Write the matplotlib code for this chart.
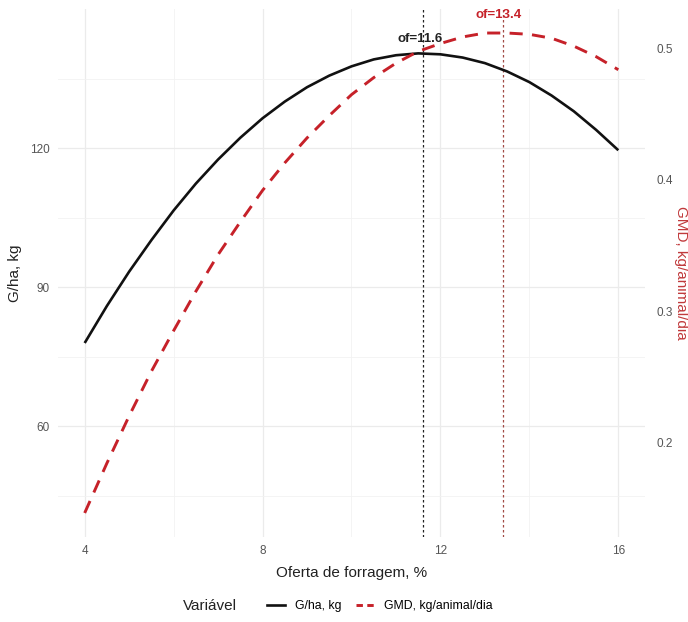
import matplotlib.pyplot as plt
from matplotlib.lines import Line2D

plt.rcParams['font.family'] = ['Liberation Sans', 'DejaVu Sans']

# oferta de forragem (%)
oferta = [4.0, 4.5, 5.0, 5.5, 6.0, 6.5, 7.0, 7.5, 8.0, 8.5, 9.0, 9.5, 10.0,
          10.5, 11.0, 11.5, 12.0, 12.5, 13.0, 13.5, 14.0, 14.5, 15.0, 15.5, 16.0]
# ganho por hectare, kg
gha = [78.0, 86.0, 93.4, 100.2, 106.6, 112.4, 117.6, 122.3, 126.5, 130.1, 133.2,
       135.7, 137.7, 139.2, 140.1, 140.5, 140.3, 139.6, 138.4, 136.6, 134.3,
       131.4, 128.0, 124.0, 119.6]
# ganho medio diario, kg/animal/dia
gmd = [0.146, 0.184, 0.220, 0.254, 0.285, 0.315, 0.343, 0.368, 0.392, 0.413,
       0.432, 0.449, 0.465, 0.478, 0.489, 0.498, 0.504, 0.509, 0.512, 0.512,
       0.511, 0.508, 0.502, 0.494, 0.484]

of_gha = 11.6
of_gmd = 13.4
escala = 283.0  # fator do eixo secundario

x_ticks = [4, 8, 12, 16]
x_minor = [6, 10, 14]
y_ticks = [60, 90, 120]
y_minor = [45, 75, 105, 135]
y2_ticks = [0.2, 0.3, 0.4, 0.5]

preto = '#111111'
vermelho = '#C62129'
cinza = '#555555'

fig = plt.figure(figsize=(6.88, 6.22), dpi=100)
ax = fig.add_axes([0.0843, 0.1367, 0.8532, 0.8488])

gmd_esc = [v * escala for v in gmd]
lo = min(min(gha), min(gmd_esc))
hi = max(max(gha), max(gmd_esc))
pad = (hi - lo) * 0.05
ax.set_ylim(lo - pad, hi + pad)
ax.set_xlim(3.4, 16.6)

for v in x_ticks:
    ax.axvline(v, color='#EBEBEB', lw=0.9, zorder=0)
for v in x_minor:
    ax.axvline(v, color='#F2F2F2', lw=0.6, zorder=0)
for v in y_ticks:
    ax.axhline(v, color='#EBEBEB', lw=0.9, zorder=0)
for v in y_minor:
    ax.axhline(v, color='#F2F2F2', lw=0.6, zorder=0)

ax.plot(oferta, gha, color=preto, lw=1.9, solid_capstyle='butt', zorder=3)
ax.plot(oferta, gmd_esc, color=vermelho, lw=2.1, dashes=(4.5, 3.2), zorder=3)

ax.axvline(of_gha, color='#222222', lw=0.9, ls=(0, (2, 2)), zorder=2)
ax.axvline(of_gmd, color='#A24A45', lw=0.9, ls=(0, (2, 2)), zorder=2)

ax.text(of_gha - 0.05, 143.5, 'of=11.6', color='#222222', fontsize=9.5,
        fontweight='bold', ha='center', va='center', zorder=4)
ax.text(of_gmd - 0.1, 148.7, 'of=13.4', color=vermelho, fontsize=9.5,
        fontweight='bold', ha='center', va='center', zorder=4)

ax.set_xticks(x_ticks)
ax.set_yticks(y_ticks)
ax.tick_params(length=0, labelsize=8.5, labelcolor=cinza, pad=6)
for s in ax.spines.values():
    s.set_visible(False)
ax.set_xlabel('Oferta de forragem, %', fontsize=11, color='#222222', labelpad=6)
ax.set_ylabel('G/ha, kg', fontsize=11, color='#222222', labelpad=6)

ax2 = ax.twinx()
lo2, hi2 = ax.get_ylim()
ax2.set_ylim(lo2 / escala, hi2 / escala)
ax2.set_yticks(y2_ticks)
ax2.set_yticklabels([str(t) for t in y2_ticks])
ax2.tick_params(length=0, labelsize=8.5, labelcolor=cinza, pad=8)
for s in ax2.spines.values():
    s.set_visible(False)
ax2.set_ylabel('GMD, kg/animal/dia', fontsize=11, color='#C0393B',
               rotation=-90, va='center', ha='center')
ax2.yaxis.set_label_coords(1.061, 0.5)

fig.text(0.266, 0.025, 'Variável', fontsize=11, color='#222222',
         ha='left', va='center')
handles = [Line2D([], [], color=preto, lw=1.9),
           Line2D([], [], color=vermelho, lw=2.1, dashes=(2.2, 1.5))]
fig.legend(handles, ['G/ha, kg', 'GMD, kg/animal/dia'], loc='center left',
           bbox_to_anchor=(0.372, 0.025), ncol=2, frameon=False, fontsize=8.8,
           handlelength=1.5, handletextpad=0.8, columnspacing=1.2)

fig.savefig('out.png', dpi=100)
